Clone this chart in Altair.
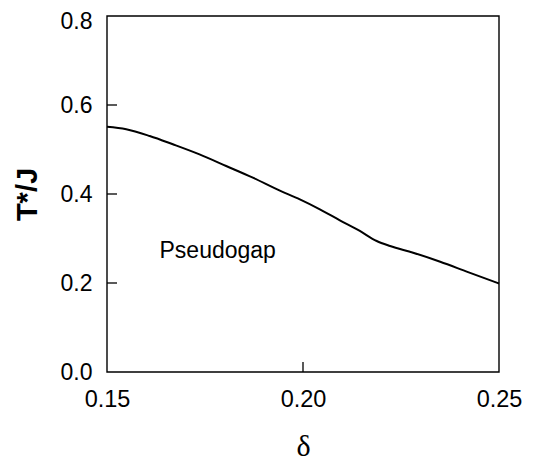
import altair as alt
import pandas as pd

# Curve T*/J vs delta
delta = [0.150, 0.1549, 0.1609, 0.1668, 0.1736, 0.1804, 0.1872, 0.1941, 0.1992,
         0.2043, 0.2094, 0.2145, 0.2188, 0.2222, 0.2281, 0.2350, 0.2421, 0.250]
tstar = [0.551, 0.5454, 0.5303, 0.5117, 0.489, 0.4629, 0.4366, 0.4075, 0.388,
         0.3656, 0.341, 0.3169, 0.2944, 0.2831, 0.2681, 0.2479, 0.2245, 0.199]

y_ticks = [0.0, 0.2, 0.4, 0.6, 0.8]
x_ticks = [0.15, 0.20, 0.25]
inner_y_ticks = [0.2, 0.4, 0.6]
inner_x_ticks = [0.20]

label_text = ["Pseudogap"]
label_x = [0.1634]
label_y = [0.256]

W, H = 392, 356
FONT = "Liberation Sans"

curve = pd.DataFrame({"delta": delta, "T": tstar})
xs = alt.Scale(domain=[0.15, 0.25], nice=False, zero=False)
ys = alt.Scale(domain=[0.0, 0.8], nice=False, zero=False)

x_axis = alt.Axis(values=x_ticks, format=".2f", ticks=False, domain=False, grid=False,
                  labelFont=FONT, labelFontSize=23.5, labelColor="black", labelPadding=15,
                  title="δ", titleFont="Liberation Serif", titleFontSize=30,
                  titleFontWeight="normal", titleColor="black",
                  titleY=83, titleBaseline="alphabetic", labelFlush=False)
y_axis = alt.Axis(values=y_ticks, format=".1f", ticks=False, domain=False, grid=False,
                  labelFont=FONT, labelFontSize=23, labelColor="black", labelPadding=15,
                  labelOffset={"condition": {"test": "datum.value >= 0.79", "value": 5}, "value": 0},
                  title="T*/J", titleFont=FONT, titleFontSize=29, titleFontWeight="bold",
                  titleColor="black", titleAngle=270, titleX=-80, titleY=H / 2,
                  titleBaseline="middle", titleAlign="center", labelFlush=False)

line = alt.Chart(curve).mark_line(color="black", strokeWidth=2, interpolate="monotone").encode(
    x=alt.X("delta:Q", scale=xs, axis=x_axis),
    y=alt.Y("T:Q", scale=ys, axis=y_axis),
)

frame = alt.Chart(pd.DataFrame({"a": [0]})).mark_rect(
    fillOpacity=0, stroke="black", strokeWidth=1.4
).encode(x=alt.value(0), x2=alt.value(W), y=alt.value(0), y2=alt.value(H))

yt = alt.Chart(pd.DataFrame({"v": inner_y_ticks})).mark_rule(color="black", strokeWidth=1.3).encode(
    y=alt.Y("v:Q", scale=ys), x=alt.value(0), x2=alt.value(10)
)
xt = alt.Chart(pd.DataFrame({"v": inner_x_ticks})).mark_rule(color="black", strokeWidth=1.3).encode(
    x=alt.X("v:Q", scale=xs), y=alt.value(H), y2=alt.value(H - 10)
)

txt = alt.Chart(pd.DataFrame({"x": label_x, "y": label_y, "t": label_text})).mark_text(
    font=FONT, fontSize=23, align="left", baseline="alphabetic", color="black"
).encode(x=alt.X("x:Q", scale=xs), y=alt.Y("y:Q", scale=ys), text="t:N")

chart = alt.layer(line, frame, yt, xt, txt).properties(
    width=W, height=H,
    background="white",
    autosize=alt.AutoSizeParams(type="none"),
    padding={"left": 99, "top": 8, "right": 30, "bottom": 90},
).configure_view(stroke=None)

chart.save("out.html", embed_options={"renderer": "svg", "actions": False})
